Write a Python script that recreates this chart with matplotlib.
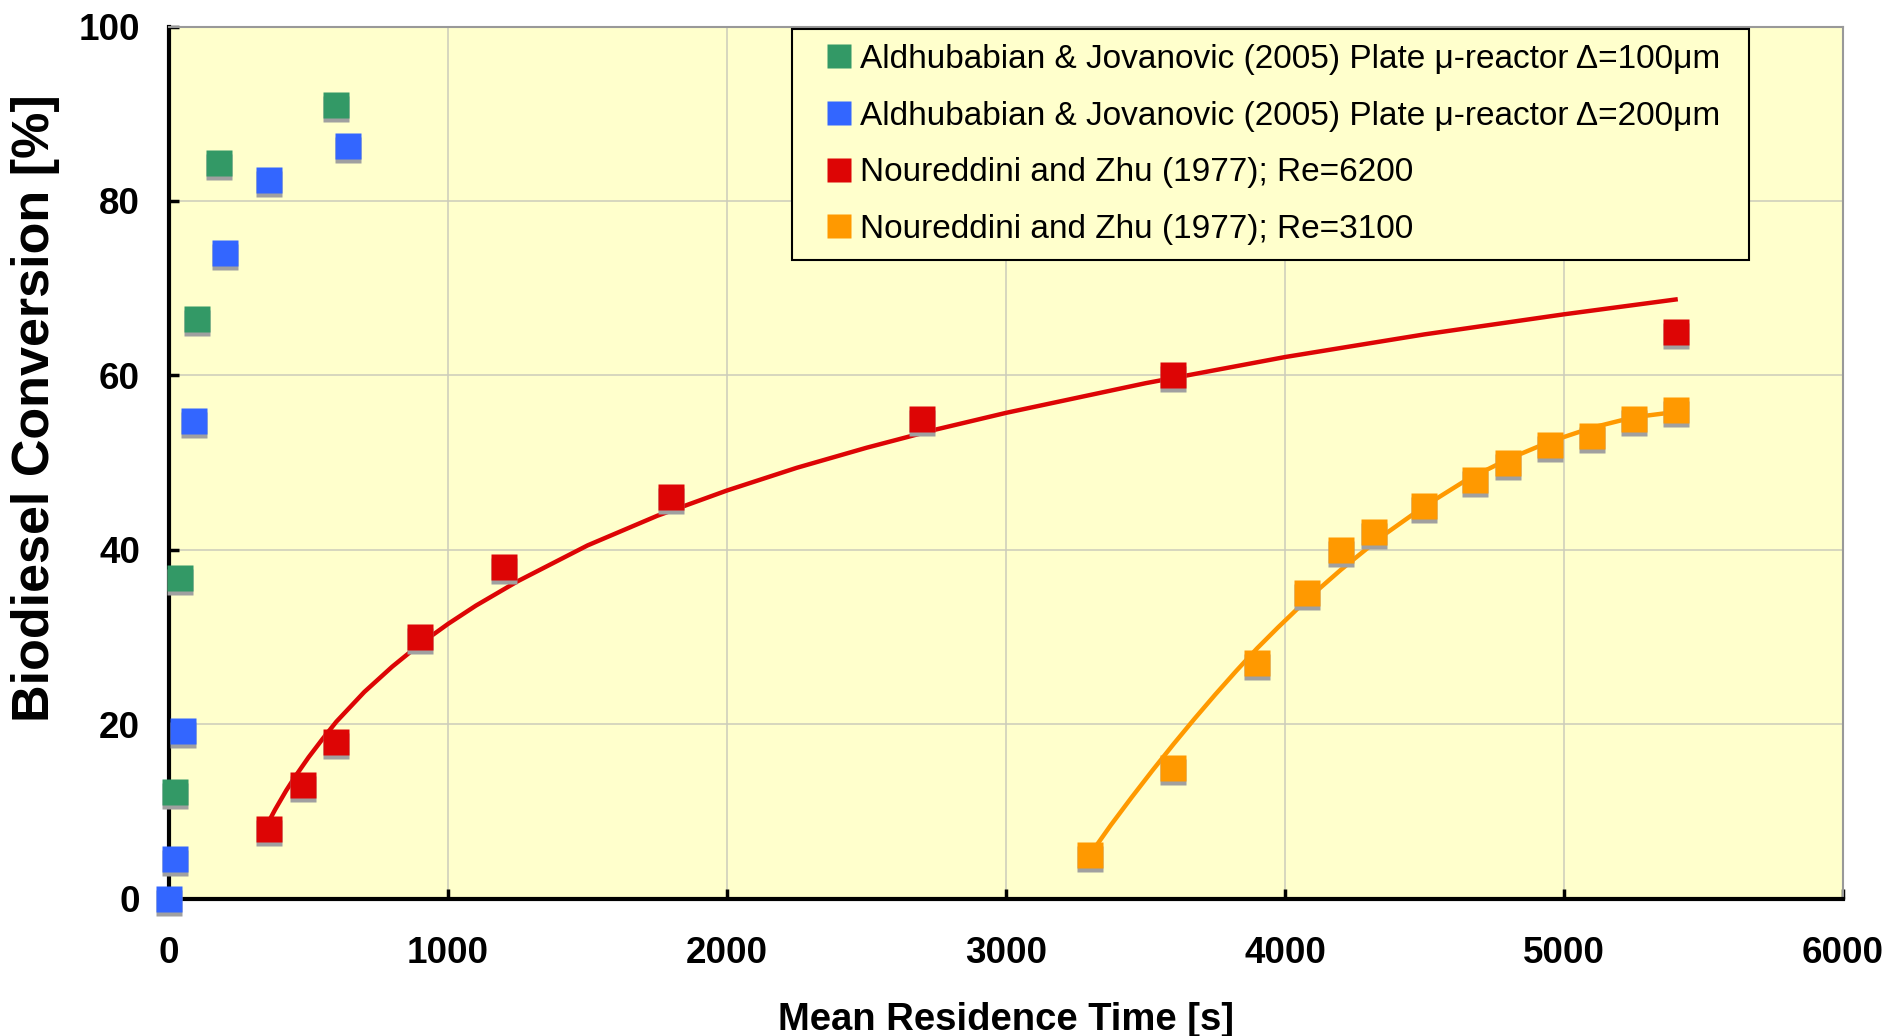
import matplotlib
matplotlib.use("Agg")
import matplotlib.pyplot as plt
from matplotlib.transforms import offset_copy

plt.rcParams["font.family"] = ["Liberation Sans", "DejaVu Sans"]

# Aldhubabian & Jovanovic (2005), 100 um plate
green_t = [20, 40, 100, 180, 600]
green_y = [12.2, 36.8, 66.5, 84.4, 91.0]

# Aldhubabian & Jovanovic (2005), 200 um plate
blue_t = [0, 20, 50, 90, 200, 360, 640]
blue_y = [0.0, 4.6, 19.2, 54.8, 74.0, 82.4, 86.3]

# Noureddini and Zhu, Re=6200
red_t = [360, 480, 600, 900, 1200, 1800, 2700, 3600, 5400]
red_y = [8.0, 13.0, 18.0, 30.0, 38.0, 46.0, 55.0, 60.0, 65.0]

# Noureddini and Zhu, Re=3100
orange_t = [3300, 3600, 3900, 4080, 4200, 4320, 4500, 4680, 4800, 4950, 5100, 5250, 5400]
orange_y = [5.0, 15.0, 27.0, 35.0, 40.0, 42.0, 45.0, 48.0, 50.0, 52.0, 53.0, 55.0, 56.0]

# trend lines
red_fit_t = [360, 380, 420, 450, 500, 550, 600, 700, 800, 900, 1000, 1100, 1250, 1500,
             1750, 2000, 2250, 2500, 2750, 3000, 3500, 4000, 4500, 5000, 5400]
red_fit_y = [9.0, 10.2, 12.4, 13.9, 16.2, 18.3, 20.3, 23.7, 26.6, 29.2, 31.5, 33.6, 36.4,
             40.5, 43.9, 46.8, 49.4, 51.7, 53.8, 55.7, 59.1, 62.1, 64.7, 67.0, 68.7]
orange_fit_t = [3300, 3375, 3450, 3525, 3600, 3675, 3750, 3825, 3900, 3975, 4050, 4125,
                4200, 4350, 4500, 4650, 4800, 4950, 5100, 5250, 5400]
orange_fit_y = [5.0, 8.4, 11.6, 14.7, 17.7, 20.6, 23.4, 26.1, 28.7, 31.1, 33.4, 35.6,
                37.7, 41.6, 45.0, 48.0, 50.4, 52.4, 54.0, 55.2, 55.8]

labels = [
    "Aldhubabian & Jovanovic (2005) Plate \u03bc-reactor \u0394=100\u03bcm",
    "Aldhubabian & Jovanovic (2005) Plate \u03bc-reactor \u0394=200\u03bcm",
    "Noureddini and Zhu (1977); Re=6200",
    "Noureddini and Zhu (1977); Re=3100",
]
colors = ["#339966", "#3366FF", "#DD0505", "#FF9900"]

fig = plt.figure(figsize=(18.91, 10.36), dpi=100)
ax = fig.add_axes([0.0894, 0.1326, 0.8852, 0.8418])
ax.set_facecolor("#FFFFCC")

ax.plot(red_fit_t, red_fit_y, "-", color=colors[2], lw=3.2, zorder=3)
ax.plot(orange_fit_t, orange_fit_y, "-", color=colors[3], lw=3.2, zorder=3)

shadow = offset_copy(ax.transData, fig=fig, x=0, y=-4, units="dots")
series = [(green_t, green_y), (blue_t, blue_y), (red_t, red_y), (orange_t, orange_y)]
for (t, y), c, lab in zip(series, colors, labels):
    ax.plot(t, y, "s", ms=18.5, color="#A0A0A0", mec="none", transform=shadow,
            zorder=4, clip_on=False)
    ax.plot(t, y, "s", ms=18.5, color=c, mec="none", zorder=5, clip_on=False, label=lab)

ax.set_xlim(0, 6000)
ax.set_ylim(0, 100)
ax.set_xticks(range(0, 6001, 1000))
ax.set_yticks(range(0, 101, 20))
ax.grid(True, color="#CCCCBB", lw=1.1)
ax.set_axisbelow(True)

for s in ("left", "bottom"):
    ax.spines[s].set_linewidth(3)
    ax.spines[s].set_color("black")
for s in ("top", "right"):
    ax.spines[s].set_linewidth(1.5)
    ax.spines[s].set_color("#999999")

ax.tick_params(direction="in", length=7, width=2.5, labelsize=26.5)
ax.tick_params(axis="x", pad=27)
ax.tick_params(axis="y", pad=21)
for lbl in ax.get_xticklabels() + ax.get_yticklabels():
    lbl.set_fontweight("bold")

ax.set_xlabel("Mean Residence Time [s]", fontsize=27.5, fontweight="bold", labelpad=22)
ax.set_ylabel("Biodiesel Conversion [%]", fontsize=37.5, fontweight="bold")
ax.yaxis.set_label_coords(-0.0654, 0.5626)

leg = ax.legend(loc="upper left", bbox_to_anchor=(0.3722, 0.0, 0.5717, 0.9971),
                mode="expand", borderaxespad=0, fontsize=24,
                frameon=True, fancybox=False, edgecolor="black", facecolor="#FFFFCC",
                framealpha=1, markerscale=0.95, handlelength=1.9, handletextpad=-0.3,
                labelspacing=0.77, borderpad=0.45)
leg.get_frame().set_linewidth(1.5)

fig.savefig("out.png", dpi=100)
